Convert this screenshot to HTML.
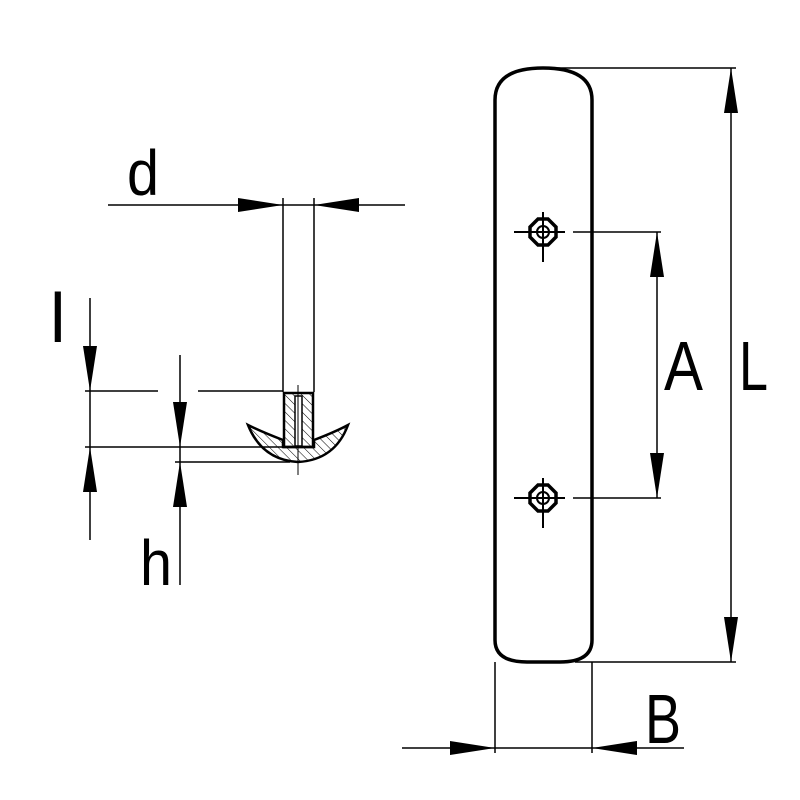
<!DOCTYPE html>
<html><head><meta charset="utf-8"><style>html,body{margin:0;padding:0;background:#fff}svg{display:block}</style></head>
<body>
<svg width="800" height="800" viewBox="0 0 800 800" xmlns="http://www.w3.org/2000/svg">
<defs>
<pattern id="h" width="6" height="6" patternUnits="userSpaceOnUse" patternTransform="rotate(-45)"><line x1="0" y1="0" x2="0" y2="6" stroke="#000" stroke-width="1"/></pattern>
</defs>
<g fill="none" stroke="#000">
<path d="M495 640 L495 100 Q495 68 543 68 Q592 68 592 100 L592 640 Q592 662 560 662 L527 662 Q495 662 495 640 Z" stroke-width="3.5"/>
<line x1="555" y1="68" x2="736" y2="68" stroke-width="1.5"/>
<line x1="575" y1="662" x2="736" y2="662" stroke-width="1.5"/>
<line x1="731" y1="68" x2="731" y2="662" stroke-width="1.5"/>
<line x1="573" y1="232" x2="661" y2="232" stroke-width="1.5"/>
<line x1="573" y1="498" x2="661" y2="498" stroke-width="1.5"/>
<line x1="657" y1="232" x2="657" y2="498" stroke-width="1.5"/>
<line x1="495" y1="662" x2="495" y2="753" stroke-width="1.5"/>
<line x1="592" y1="662" x2="592" y2="753" stroke-width="1.5"/>
<line x1="402" y1="748" x2="684" y2="748" stroke-width="1.5"/>
<g stroke-width="2">
<line x1="543" y1="212" x2="543" y2="262"/><line x1="514" y1="232" x2="565" y2="232"/>
<line x1="543" y1="478" x2="543" y2="528"/><line x1="514" y1="498" x2="565" y2="498"/>
</g>
<g stroke-width="3.5">
<polygon points="538,219 548,219 556,227 556,237 548,245 538,245 530,237 530,227"/>
<polygon points="538,485 548,485 556,493 556,503 548,511 538,511 530,503 530,493"/>
</g>
<circle cx="543" cy="232" r="6" stroke-width="2"/><circle cx="543" cy="498" r="6" stroke-width="2"/>
<line x1="283" y1="198" x2="283" y2="392" stroke-width="1.5"/>
<line x1="314" y1="198" x2="314" y2="392" stroke-width="1.5"/>
<line x1="108" y1="205" x2="405" y2="205" stroke-width="1.5"/>
<line x1="90" y1="298" x2="90" y2="540" stroke-width="1.5"/>
<line x1="180" y1="355" x2="180" y2="585" stroke-width="1.5"/>
<line x1="85" y1="391" x2="158" y2="391" stroke-width="1.5"/>
<line x1="198" y1="391" x2="283" y2="391" stroke-width="1.5"/>
<line x1="85" y1="447" x2="290" y2="447" stroke-width="1.5"/>
<line x1="175" y1="462" x2="290" y2="462" stroke-width="1.5"/>
<path d="M248 425 Q262 432 283 440 L283 447 L314 447 L314 440 Q335 432 348 425 Q335 460 298 462 Q262 460 248 425 Z" fill="url(#h)" stroke-width="2.5"/>
<rect x="284" y="393" width="29" height="54" fill="url(#h)" stroke-width="2.5"/>
<rect x="295" y="396" width="7" height="50" fill="#fff" stroke-width="1.5"/>
<line x1="298" y1="385" x2="298" y2="475" stroke-width="1"/>
</g>
<g fill="#000">
<polygon points="731,68 724,113 738,113"/>
<polygon points="731,662 724,617 738,617"/>
<polygon points="657,232 650,277 664,277"/>
<polygon points="657,498 650,453 664,453"/>
<polygon points="495,748 450,741 450,755"/>
<polygon points="592,748 637,741 637,755"/>
<polygon points="283,205 238,198 238,212"/>
<polygon points="314,205 359,198 359,212"/>
<polygon points="90,391 83,346 97,346"/>
<polygon points="90,447 83,492 97,492"/>
<polygon points="180,447 173,402 187,402"/>
<polygon points="180,462 173,507 187,507"/>
</g>
<g font-family="Liberation Sans, sans-serif" font-size="70" fill="#000">
<text x="127" y="195" font-size="64" textLength="32" lengthAdjust="spacingAndGlyphs">d</text>
<text x="50" y="342">l</text>
<text x="140" y="585" font-size="64" textLength="32" lengthAdjust="spacingAndGlyphs">h</text>
<text x="664" y="390" textLength="39" lengthAdjust="spacingAndGlyphs">A</text>
<text x="739" y="390" textLength="29" lengthAdjust="spacingAndGlyphs">L</text>
<text x="645" y="743" textLength="36" lengthAdjust="spacingAndGlyphs">B</text>
</g>
</svg>
</body></html>
